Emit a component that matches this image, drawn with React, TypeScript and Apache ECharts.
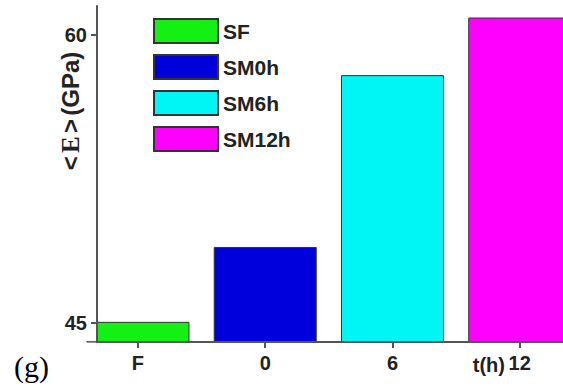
import React, { useEffect, useRef } from "react";
import * as echarts from "echarts";

const categories = ["F", "0", "6", "12"];
const seriesNames = ["SF", "SM0h", "SM6h", "SM12h"];
const values = [45.05, 48.95, 57.9, 60.9];
const colors = ["#14f014", "#0000dc", "#00f5f5", "#ff00ff"];
const yTicks = [45, 60];
const positions = [0, 1, 2, 3];

export default function App() {
  const ref = useRef<HTMLDivElement>(null);
  useEffect(() => {
    if (!ref.current) return;
    const chart = echarts.init(ref.current, null, { renderer: "svg" });
    const sans = "'Liberation Sans', Arial, sans-serif";
    const serif = "'Liberation Serif', 'Times New Roman', serif";
    chart.setOption({
      animation: false,
      backgroundColor: "#ffffff",
      grid: { left: 97, top: 6, right: 0, bottom: 45, containLabel: false },
      legend: {
        orient: "vertical",
        left: 148,
        top: 13,
        itemWidth: 64,
        itemHeight: 24,
        itemGap: 10,
        icon: "rect",
        data: seriesNames,
        textStyle: { fontSize: 21, fontWeight: "bold", color: "#222", fontFamily: sans },
      },
      xAxis: {
        type: "value",
        min: -0.322,
        max: 3.34,
        z: 10,
        splitLine: { show: false },
        axisLine: { show: true, onZero: false, lineStyle: { color: "#555", width: 2 } },
        axisTick: { show: true, length: 6, customValues: positions, lineStyle: { color: "#555", width: 2 } },
        axisLabel: {
          customValues: positions,
          margin: 11,
          fontSize: 20,
          fontWeight: "bold",
          color: "#222",
          fontFamily: sans,
          formatter: (v: number) => categories[Math.round(v)] ?? "",
        },
      },
      yAxis: {
        type: "value",
        min: 44,
        max: 61.5,
        z: 10,
        splitLine: { show: false },
        axisLine: { show: true, onZero: false, lineStyle: { color: "#555", width: 2 } },
        axisTick: { show: true, length: 6, customValues: yTicks, lineStyle: { color: "#555", width: 2 } },
        axisLabel: {
          customValues: yTicks,
          margin: 10,
          fontSize: 20,
          fontWeight: "bold",
          color: "#222",
          fontFamily: sans,
        },
      },
      series: seriesNames.map((name, i) => ({
        name,
        type: "bar",
        barWidth: 103,
        barGap: "-100%",
        clip: true,
        data: [[positions[i], values[i]]],
        itemStyle: { color: colors[i], borderColor: "#333", borderWidth: 1 },
      })),
      graphic: [
        {
          type: "rect",
          z: 5,
          silent: true,
          shape: { x: 84, y: 290, width: 12, height: 51 },
          style: { fill: "#ffffff" },
        },
        {
          type: "text",
          x: 70,
          y: 111,
          rotation: Math.PI / 2,
          style: {
            text: "{s|<} {e|E} {s|>} {s|(GPa)}",
            align: "center",
            verticalAlign: "middle",
            rich: {
              s: { fontSize: 24, fontWeight: "bold", fill: "#222", fontFamily: sans },
              e: { fontSize: 25, fontWeight: "bold", fill: "#222", fontFamily: serif },
            },
          },
        },
        {
          type: "text",
          x: 505,
          y: 365,
          style: {
            text: "t(h)",
            align: "right",
            verticalAlign: "middle",
            fontSize: 20,
            fontWeight: "bold",
            fill: "#222",
            fontFamily: sans,
          },
        },
        {
          type: "text",
          x: 14,
          y: 366,
          style: {
            text: "(g)",
            align: "left",
            verticalAlign: "middle",
            fontSize: 30,
            fill: "#000",
            fontFamily: serif,
          },
        },
      ],
    });
    return () => chart.dispose();
  }, []);
  return (
    <div
      ref={ref}
      style={{ position: "fixed", left: 0, top: 0, width: 563, height: 387, background: "#fff" }}
    />
  );
}
